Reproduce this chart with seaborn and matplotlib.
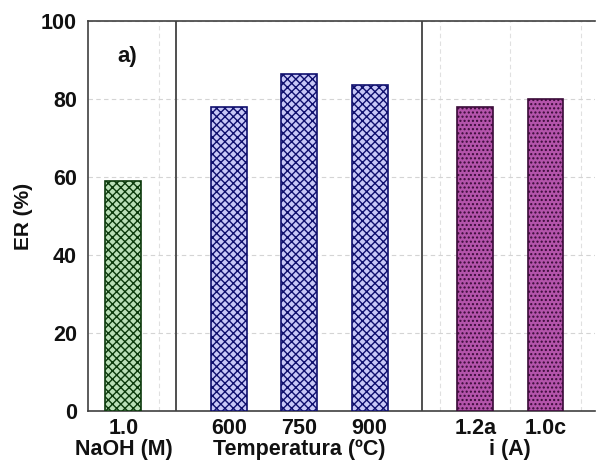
import numpy as np
import pandas as pd
import matplotlib
matplotlib.use("Agg")
import matplotlib.pyplot as plt
import matplotlib.transforms as mtransforms
import seaborn as sns

# values
labels = ['1.0', '600', '750', '900', '1.2a', '1.0c']
positions = [0, 1.5, 2.5, 3.5, 5, 6]
er = [59, 78, 86.5, 83.7, 78, 80]
groups = ['NaOH (M)', 'Temperatura (ºC)', 'Temperatura (ºC)', 'Temperatura (ºC)', 'i (A)', 'i (A)']
group_names = ['NaOH (M)', 'Temperatura (ºC)', 'i (A)']

df = pd.DataFrame({'pos': positions, 'er': er, 'group': groups})

sns.set_style("white")
plt.rcParams['font.family'] = ['Liberation Sans', 'DejaVu Sans']
plt.rcParams['font.weight'] = 'bold'
plt.rcParams['hatch.linewidth'] = 1.0
plt.rcParams['text.color'] = '#111111'
plt.rcParams['axes.labelcolor'] = '#111111'
plt.rcParams['xtick.color'] = '#111111'
plt.rcParams['ytick.color'] = '#111111'

fill = {'NaOH (M)': '#b4e6b0', 'Temperatura (ºC)': '#c0c0ff', 'i (A)': '#c444b8'}
edge = {'NaOH (M)': '#0c3a0c', 'Temperatura (ºC)': '#10106e', 'i (A)': '#3a0a38'}
hatch = {'NaOH (M)': 'xxxx', 'Temperatura (ºC)': 'xxxx', 'i (A)': '....'}

fig = plt.figure(figsize=(5.96, 4.67), dpi=100)
ax = fig.add_axes([0.148, 0.12, 0.85, 0.835])

sns.barplot(data=df, x='pos', y='er', hue='group', hue_order=group_names,
            palette=fill, native_scale=True, dodge=False, width=0.51,
            legend=False, ax=ax, zorder=3)

for name, cont in zip(group_names, ax.containers):
    for bar in cont:
        bar.set_edgecolor(edge[name])
        bar.set_hatch(hatch[name])
        bar.set_linewidth(1.2)

ax.set_xlim(-0.5, 6.7)
ax.set_ylim(0, 100)
ax.set_yticks([0, 20, 40, 60, 80, 100])
ax.set_yticks(np.arange(10, 100, 20), minor=True)
ax.set_xticks(positions)
ax.set_xticklabels(labels)
ax.set_xticks(np.arange(0.5, 7, 1), minor=True)
ax.tick_params(axis='both', which='major', labelsize=15.5, length=4, width=1, direction='out')
ax.tick_params(axis='y', which='minor', length=2)
ax.tick_params(axis='x', which='minor', length=0)
ax.tick_params(axis='x', pad=1)
ax.tick_params(axis='y', pad=4)

ax.grid(axis='y', which='major', linestyle=(0, (4, 3)), color='#d4d4d4', lw=0.8, zorder=0)
ax.grid(axis='x', which='minor', linestyle=(0, (4, 3)), color='#e0e0e0', lw=0.8, zorder=0)
ax.set_axisbelow(True)

for s in ax.spines.values():
    s.set_color('#404040')
    s.set_linewidth(1.2)
ax.spines['right'].set_visible(False)

# group dividers
ax.axvline(0.75, color='#505050', lw=1.4, zorder=2)
ax.axvline(4.25, color='#505050', lw=1.4, zorder=2)

ax.set_xlabel('')
ax.set_ylabel('ER (%)', fontsize=15, fontweight='bold', labelpad=6)

trans = mtransforms.blended_transform_factory(ax.transData, ax.transAxes)
for name in group_names:
    centre = np.mean(df.loc[df['group'] == name, 'pos'])
    ax.text(centre, -0.1, name, transform=trans, ha='center', va='center',
            fontsize=15.5, fontweight='bold')

ax.text(0.05, 91, 'a)', fontsize=16, fontweight='bold', ha='center', va='center')

fig.savefig('out.png', dpi=100)
